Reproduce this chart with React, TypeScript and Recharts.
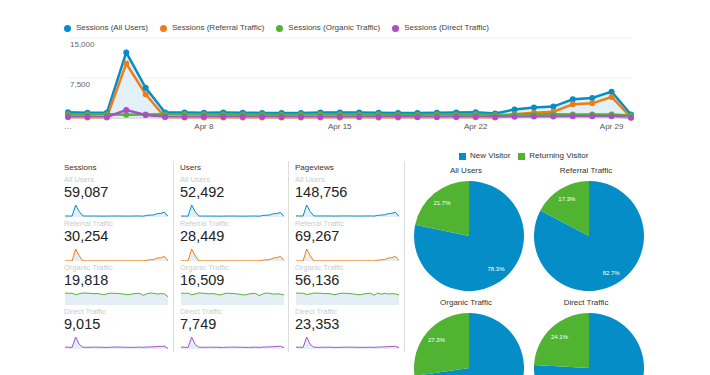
import React from "react";
import {
  ComposedChart,
  Area,
  Line,
  XAxis,
  YAxis,
  CartesianGrid,
  AreaChart,
  PieChart,
  Pie,
  Cell,
} from "recharts";

const FONT = '"Liberation Sans", Arial, sans-serif';

const BLUE = "#058dc7";
const ORANGE = "#ed7e17";
const GREEN = "#50b432";
const PURPLE = "#aa4fc6";

const days = [
  "Apr 1", "Apr 2", "Apr 3", "Apr 4", "Apr 5", "Apr 6", "Apr 7", "Apr 8", "Apr 9", "Apr 10",
  "Apr 11", "Apr 12", "Apr 13", "Apr 14", "Apr 15", "Apr 16", "Apr 17", "Apr 18", "Apr 19", "Apr 20",
  "Apr 21", "Apr 22", "Apr 23", "Apr 24", "Apr 25", "Apr 26", "Apr 27", "Apr 28", "Apr 29", "Apr 30",
];
const xTicks = ["Apr 1", "Apr 8", "Apr 15", "Apr 22", "Apr 29"];
const yTicks = [0, 7500, 15000];

// sessions per day
const allSessions = [1070, 1000, 980, 12300, 5660, 1050, 1010, 1000, 1010, 1000, 960, 920, 960, 1020, 1030, 1040, 990, 940, 930, 980, 1040, 1080, 860, 1590, 1960, 2140, 3510, 3740, 4940, 650];
const referralSessions = [120, 100, 90, 10200, 4450, 120, 110, 100, 110, 100, 100, 110, 100, 100, 110, 120, 110, 100, 120, 130, 150, 160, 100, 690, 1000, 1190, 2560, 2750, 3940, 100];
const organicSessions = [700, 680, 690, 600, 650, 700, 690, 680, 660, 670, 640, 600, 660, 690, 680, 670, 650, 620, 600, 650, 670, 680, 560, 650, 700, 680, 640, 660, 650, 480];
const directSessions = [250, 220, 200, 1500, 560, 230, 210, 220, 240, 230, 220, 210, 200, 230, 240, 250, 230, 220, 210, 200, 220, 240, 200, 250, 260, 270, 310, 330, 350, 70];

// users per day
const allUsers = [920, 870, 850, 11200, 5000, 900, 880, 870, 880, 870, 840, 800, 840, 890, 900, 910, 860, 820, 810, 850, 900, 940, 750, 1380, 1700, 1860, 3050, 3250, 4300, 400];
const referralUsers = [110, 90, 80, 9400, 4200, 110, 100, 90, 100, 90, 90, 100, 90, 90, 100, 110, 100, 90, 110, 120, 140, 150, 90, 640, 930, 1100, 2380, 2560, 3650, 230];
const organicUsers = [600, 580, 590, 510, 550, 600, 590, 580, 560, 570, 540, 500, 560, 590, 580, 570, 550, 520, 500, 550, 570, 580, 470, 550, 600, 580, 540, 560, 550, 500];
const directUsers = [210, 190, 170, 1300, 480, 200, 180, 190, 200, 190, 190, 180, 170, 200, 200, 210, 200, 190, 180, 170, 190, 200, 170, 210, 220, 230, 260, 280, 300, 150];

// pageviews per day
const allPageviews = [2600, 2450, 2400, 28500, 13000, 2550, 2480, 2450, 2470, 2450, 2350, 2250, 2380, 2500, 2520, 2550, 2430, 2320, 2280, 2420, 2520, 2600, 2150, 3800, 4700, 5100, 8200, 8800, 11500, 1100];
const referralPageviews = [260, 220, 200, 22500, 10000, 260, 240, 220, 240, 220, 220, 240, 220, 220, 240, 260, 240, 220, 260, 290, 330, 350, 220, 1550, 2250, 2700, 5800, 6200, 8900, 560];
const organicPageviews = [1950, 1900, 1920, 1700, 1800, 1950, 1920, 1900, 1850, 1870, 1780, 1650, 1850, 1920, 1900, 1870, 1800, 1720, 1650, 1800, 1870, 1900, 1580, 1950, 1750, 1900, 1780, 1840, 1800, 1650];
const directPageviews = [620, 560, 520, 3900, 1500, 600, 540, 560, 600, 580, 560, 540, 520, 580, 600, 620, 580, 560, 540, 520, 560, 600, 520, 620, 660, 700, 780, 830, 880, 450];

const segments = ["All Users", "Referral Traffic", "Organic Traffic", "Direct Traffic"];
const segmentColors = [BLUE, ORANGE, GREEN, PURPLE];
const legendNames = ["Sessions (All Users)", "Sessions (Referral Traffic)", "Sessions (Organic Traffic)", "Sessions (Direct Traffic)"];

const sessionTotals = [59087, 30254, 19818, 9015];
const userTotals = [52492, 28449, 16509, 7749];
const pageviewTotals = [148756, 69267, 56136, 23353];

const visitorTypes = ["New Visitor", "Returning Visitor"];
const visitorColors = [BLUE, GREEN];
const newVisitorPct = [78.3, 82.7, 72.7, 75.9];
const returningVisitorPct = [21.7, 17.3, 27.3, 24.1];

const metrics = [
  { title: "Sessions", totals: sessionTotals, series: [allSessions, referralSessions, organicSessions, directSessions] },
  { title: "Users", totals: userTotals, series: [allUsers, referralUsers, organicUsers, directUsers] },
  { title: "Pageviews", totals: pageviewTotals, series: [allPageviews, referralPageviews, organicPageviews, directPageviews] },
];

const mainData = days.map((d, i) => ({
  day: d,
  all: allSessions[i],
  referral: referralSessions[i],
  organic: organicSessions[i],
  direct: directSessions[i],
}));

const renderYTick = (props: any) => {
  const { x, y, payload } = props;
  if (!payload || !payload.value) return <g />;
  return (
    <text x={x + 2} y={y + 3} dominantBaseline="hanging" textAnchor="start" fontSize={8} fill="#666" fontFamily={FONT}>
      {Number(payload.value).toLocaleString("en-US")}
    </text>
  );
};

function Sparkline({ values, color }: { values: number[]; color: string }) {
  const data = values.map((v, i) => ({ day: days[i], v }));
  return (
    <AreaChart width={103} height={13} data={data} margin={{ top: 1, right: 0, bottom: 0, left: 0 }}>
      <XAxis dataKey="day" hide />
      <YAxis hide domain={[0, "dataMax"]} />
      <Area
        type="linear"
        dataKey="v"
        stroke={color}
        strokeWidth={1}
        fill="#e4eff5"
        fillOpacity={1}
        dot={false}
        isAnimationActive={false}
      />
    </AreaChart>
  );
}

const PIE_BOX_H = 215;
const RADIAN = Math.PI / 180;
const renderPieLabel = (props: any) => {
  const { cx, cy, midAngle, outerRadius, value } = props;
  const r = outerRadius * 0.78;
  const x = cx + r * Math.cos(-midAngle * RADIAN);
  const y = cy + r * Math.sin(-midAngle * RADIAN);
  // labels that fall below the visible frame are not drawn (cut off in the original)
  if (y + 4 > PIE_BOX_H) return <g />;
  return (
    <text x={x} y={y} fill="#fff" textAnchor="middle" dominantBaseline="central" fontSize={6} fontFamily={FONT}>
      {`${value.toFixed(1)}%`}
    </text>
  );
};

const colX = [64, 180, 295];
const sepX = [173, 288, 404];
const pieCenters = [
  { cx: 69, cy: 76 },
  { cx: 189, cy: 76 },
  { cx: 69, cy: 208 },
  { cx: 189, cy: 208 },
];

export default function App() {
  return (
    <div
      style={{
        position: "absolute",
        left: 0,
        top: 0,
        width: 710,
        height: 375,
        overflow: "hidden",
        background: "#fff",
        fontFamily: FONT,
      }}
    >
      {/* main legend */}
      <div style={{ position: "absolute", left: 64, top: 24, display: "flex", alignItems: "center", height: 8 }}>
        {legendNames.map((n, i) => (
          <div key={n} style={{ display: "flex", alignItems: "center", marginRight: 12 }}>
            <span style={{ width: 7, height: 7, borderRadius: "50%", background: segmentColors[i], display: "inline-block" }} />
            <span style={{ marginLeft: 5, fontSize: 8, color: "#444", lineHeight: "8px", whiteSpace: "nowrap" }}>{n}</span>
          </div>
        ))}
      </div>

      <div style={{ position: "absolute", left: 0, top: 0 }}>
        <ComposedChart width={710} height={140} data={mainData} margin={{ top: 38, right: 79, bottom: 2, left: 67 }}>
          <CartesianGrid vertical={false} stroke="#eeeeee" />
          <XAxis
            dataKey="day"
            ticks={xTicks}
            tickFormatter={(v: string) => (v === "Apr 1" ? "…" : v)}
            height={20}
            tickSize={0}
            tickMargin={5}
            axisLine={{ stroke: "#cccccc" }}
            tickLine={false}
            tick={{ fontSize: 8, fill: "#555", fontFamily: FONT }}
            interval={0}
          />
          <YAxis
            width={1}
            domain={[0, 15000]}
            ticks={yTicks}
            interval={0}
            tickSize={0}
            tickMargin={0}
            axisLine={false}
            tickLine={false}
            tick={renderYTick}
          />
          <Area
            type="linear"
            dataKey="all"
            stroke={BLUE}
            strokeWidth={2.5}
            fill="#e3f0f7"
            fillOpacity={1}
            dot={{ r: 3, fill: BLUE, stroke: BLUE, strokeWidth: 0 }}
            isAnimationActive={false}
          />
          <Line type="linear" dataKey="referral" stroke={ORANGE} strokeWidth={2.5} dot={{ r: 3, fill: ORANGE, stroke: ORANGE, strokeWidth: 0 }} isAnimationActive={false} />
          <Line type="linear" dataKey="organic" stroke={GREEN} strokeWidth={2.5} dot={{ r: 3, fill: GREEN, stroke: GREEN, strokeWidth: 0 }} isAnimationActive={false} />
          <Line type="linear" dataKey="direct" stroke={PURPLE} strokeWidth={2.5} dot={{ r: 3, fill: PURPLE, stroke: PURPLE, strokeWidth: 0 }} isAnimationActive={false} />
        </ComposedChart>
      </div>

      {/* column separators */}
      {sepX.map((x) => (
        <div key={x} style={{ position: "absolute", left: x, top: 161, width: 1, height: 191, background: "#dddddd" }} />
      ))}

      {/* sparkline tables */}
      {metrics.map((m, c) => (
        <div key={m.title}>
          <div style={{ position: "absolute", left: colX[c], top: 164, fontSize: 8, lineHeight: "8px", color: "#333" }}>{m.title}</div>
          {segments.map((s, r) => (
            <div key={s}>
              <div style={{ position: "absolute", left: colX[c], top: 176 + 44 * r, fontSize: 7.5, lineHeight: "8px", color: "#cccccc", whiteSpace: "nowrap" }}>{s}</div>
              <div style={{ position: "absolute", left: colX[c], top: 184 + 44 * r, fontSize: 14.5, lineHeight: "16px", color: "#222" }}>
                {m.totals[r].toLocaleString("en-US")}
              </div>
              <div style={{ position: "absolute", left: colX[c] + 1, top: 204 + 44 * r }}>
                <Sparkline values={m.series[r]} color={segmentColors[r]} />
              </div>
            </div>
          ))}
        </div>
      ))}

      {/* pie legend */}
      <div style={{ position: "absolute", left: 459, top: 152, display: "flex", alignItems: "center", height: 8 }}>
        {visitorTypes.map((n, i) => (
          <div key={n} style={{ display: "flex", alignItems: "center", marginRight: 8 }}>
            <span style={{ width: 7, height: 7, background: visitorColors[i], display: "inline-block" }} />
            <span style={{ marginLeft: 4, fontSize: 8, color: "#333", lineHeight: "8px", whiteSpace: "nowrap" }}>{n}</span>
          </div>
        ))}
      </div>

      {/* pie titles */}
      {segments.map((s, i) => (
        <div
          key={s}
          style={{
            position: "absolute",
            left: 400 + pieCenters[i].cx - 3 - 50,
            top: 160 + pieCenters[i].cy - 69,
            width: 100,
            textAlign: "center",
            fontSize: 8,
            lineHeight: "8px",
            color: "#333",
          }}
        >
          {s}
        </div>
      ))}

      <div style={{ position: "absolute", left: 400, top: 160 }}>
        <PieChart width={310} height={PIE_BOX_H} margin={{ top: 0, right: 0, bottom: 0, left: 0 }}>
          {segments.map((s, i) => {
            const data = [
              { name: visitorTypes[0], value: newVisitorPct[i] },
              { name: visitorTypes[1], value: returningVisitorPct[i] },
            ];
            return (
              <Pie
                key={s}
                data={data}
                dataKey="value"
                cx={pieCenters[i].cx}
                cy={pieCenters[i].cy}
                outerRadius={55}
                startAngle={90}
                endAngle={-270}
                stroke="none"
                label={renderPieLabel}
                labelLine={false}
                isAnimationActive={false}
              >
                {data.map((d, j) => (
                  <Cell key={d.name} fill={visitorColors[j]} />
                ))}
              </Pie>
            );
          })}
        </PieChart>
      </div>
    </div>
  );
}
